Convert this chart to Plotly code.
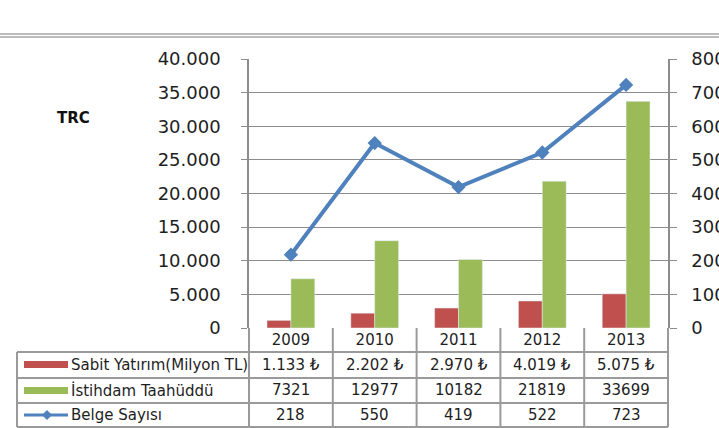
import plotly.graph_objects as go

years = ['2009', '2010', '2011', '2012', '2013']
sabit = [1133, 2202, 2970, 4019, 5075]
istihdam = [7321, 12977, 10182, 21819, 33699]
belge = [218, 550, 419, 522, 723]
row_labels = ['Sabit Yatırım(Milyon TL)', 'İstihdam Taahüddü', 'Belge Sayısı']

RED = '#C0504D'
GREEN = '#9BBB59'
BLUE = '#4F81BD'
GRID = '#8C8C8C'
FONT = 'DejaVu Sans'

W, H = 719, 428
L, R, T, B = 249, 668, 59, 328
pw, ph = R - L, B - T


def px(x):
    return (x - L) / pw


def py(y):
    return (B - y) / ph


fig = go.Figure()
fig.add_trace(go.Bar(x=years, y=sabit, marker_color=RED, name=row_labels[0], showlegend=False))
fig.add_trace(go.Bar(x=years, y=istihdam, marker_color=GREEN, name=row_labels[1], showlegend=False))
fig.add_trace(go.Scatter(x=years, y=belge, yaxis='y2', mode='lines+markers', name=row_labels[2],
                         line=dict(color=BLUE, width=4),
                         marker=dict(symbol='diamond', size=11, color=BLUE), showlegend=False))

shapes = []
line_style = dict(color='#9A9A9A', width=2)
for yy in (34, 37):
    shapes.append(dict(type='line', xref='paper', yref='paper', x0=px(-5), x1=px(W + 5), y0=py(yy), y1=py(yy),
                       line=dict(color='#A6A6A6', width=1.5)))
for yy in (352, 378, 403, 427):
    shapes.append(dict(type='line', xref='paper', yref='paper', x0=px(17), x1=1, y0=py(yy), y1=py(yy), line=line_style))
shapes.append(dict(type='line', xref='paper', yref='paper', x0=px(17), x1=px(17), y0=py(352), y1=py(427), line=line_style))
n = len(years)
for i in range(n + 1):
    shapes.append(dict(type='line', xref='paper', yref='paper', x0=i / n, x1=i / n, y0=0, y1=py(427), line=line_style))
shapes.append(dict(type='rect', xref='paper', yref='paper', x0=px(24), x1=px(68), y0=py(368), y1=py(361),
                   fillcolor=RED, line=dict(width=0)))
shapes.append(dict(type='rect', xref='paper', yref='paper', x0=px(24), x1=px(68), y0=py(394), y1=py(387),
                   fillcolor=GREEN, line=dict(width=0)))
shapes.append(dict(type='line', xref='paper', yref='paper', x0=px(24), x1=px(68), y0=py(415), y1=py(415),
                   line=dict(color=BLUE, width=3)))
cx, cy, d = 47, 415, 5
shapes.append(dict(type='path', xref='paper', yref='paper',
                   path=f'M {px(cx - d)} {py(cy)} L {px(cx)} {py(cy - d)} L {px(cx + d)} {py(cy)} L {px(cx)} {py(cy + d)} Z',
                   fillcolor=BLUE, line=dict(width=0)))

annotations = []
tf = dict(family=FONT, size=15, color='#1E1E1E')
row_y = [365, 390, 415]
for lab, yy in zip(row_labels, row_y):
    annotations.append(dict(text=lab, xref='paper', yref='paper', x=px(69), y=py(yy), xanchor='left',
                            yanchor='middle', showarrow=False, font=tf))
for i, yr in enumerate(years):
    vals = [f"{sabit[i]:,}".replace(',', '.') + ' ₺', str(istihdam[i]), str(belge[i])]
    for v, yy in zip(vals, row_y):
        annotations.append(dict(text=v, xref='x', yref='paper', x=i, y=py(yy), xanchor='center',
                                yanchor='middle', showarrow=False, font=tf))
annotations.append(dict(text='<b>TRC</b>', xref='paper', yref='paper', x=px(73), y=py(118), xanchor='center',
                        yanchor='middle', showarrow=False, font=dict(family=FONT, size=15, color='#111111')))

fig.update_layout(
    width=W, height=H, autosize=False,
    margin=dict(l=L, r=W - R, t=T, b=H - B, pad=0, autoexpand=False),
    paper_bgcolor='white', plot_bgcolor='white',
    separators=',.',
    barmode='group', bargap=0.43, bargroupgap=0,
    font=dict(family=FONT, size=16, color='#222222'),
    shapes=shapes, annotations=annotations,
    xaxis=dict(type='category', range=[-0.5, len(years) - 0.5], autorange=False, showgrid=False, ticks='',
               showline=False, zeroline=False, automargin=False,
               tickfont=dict(family=FONT, size=15, color='#1E1E1E'), ticklabelstandoff=1),
    yaxis=dict(range=[0, 40000], autorange=False, dtick=5000, tickformat=',d', showgrid=True, gridcolor=GRID,
               gridwidth=1, showline=True, linecolor=GRID, linewidth=1.5, ticks='outside', ticklen=6,
               tickcolor=GRID, zeroline=False, automargin=False,
               tickfont=dict(family=FONT, size=18, color='#1E1E1E'), ticklabelstandoff=17),
    yaxis2=dict(range=[0, 800], autorange=False, dtick=100, overlaying='y', side='right', showgrid=False,
                showline=True, linecolor=GRID, linewidth=1.5, ticks='outside', ticklen=7, tickcolor=GRID,
                zeroline=False, automargin=False,
                tickfont=dict(family=FONT, size=18, color='#1E1E1E'), ticklabelstandoff=11),
)

fig.write_html('out.html', config={'displayModeBar': False},
               post_script="document.body.style.margin='0';")
